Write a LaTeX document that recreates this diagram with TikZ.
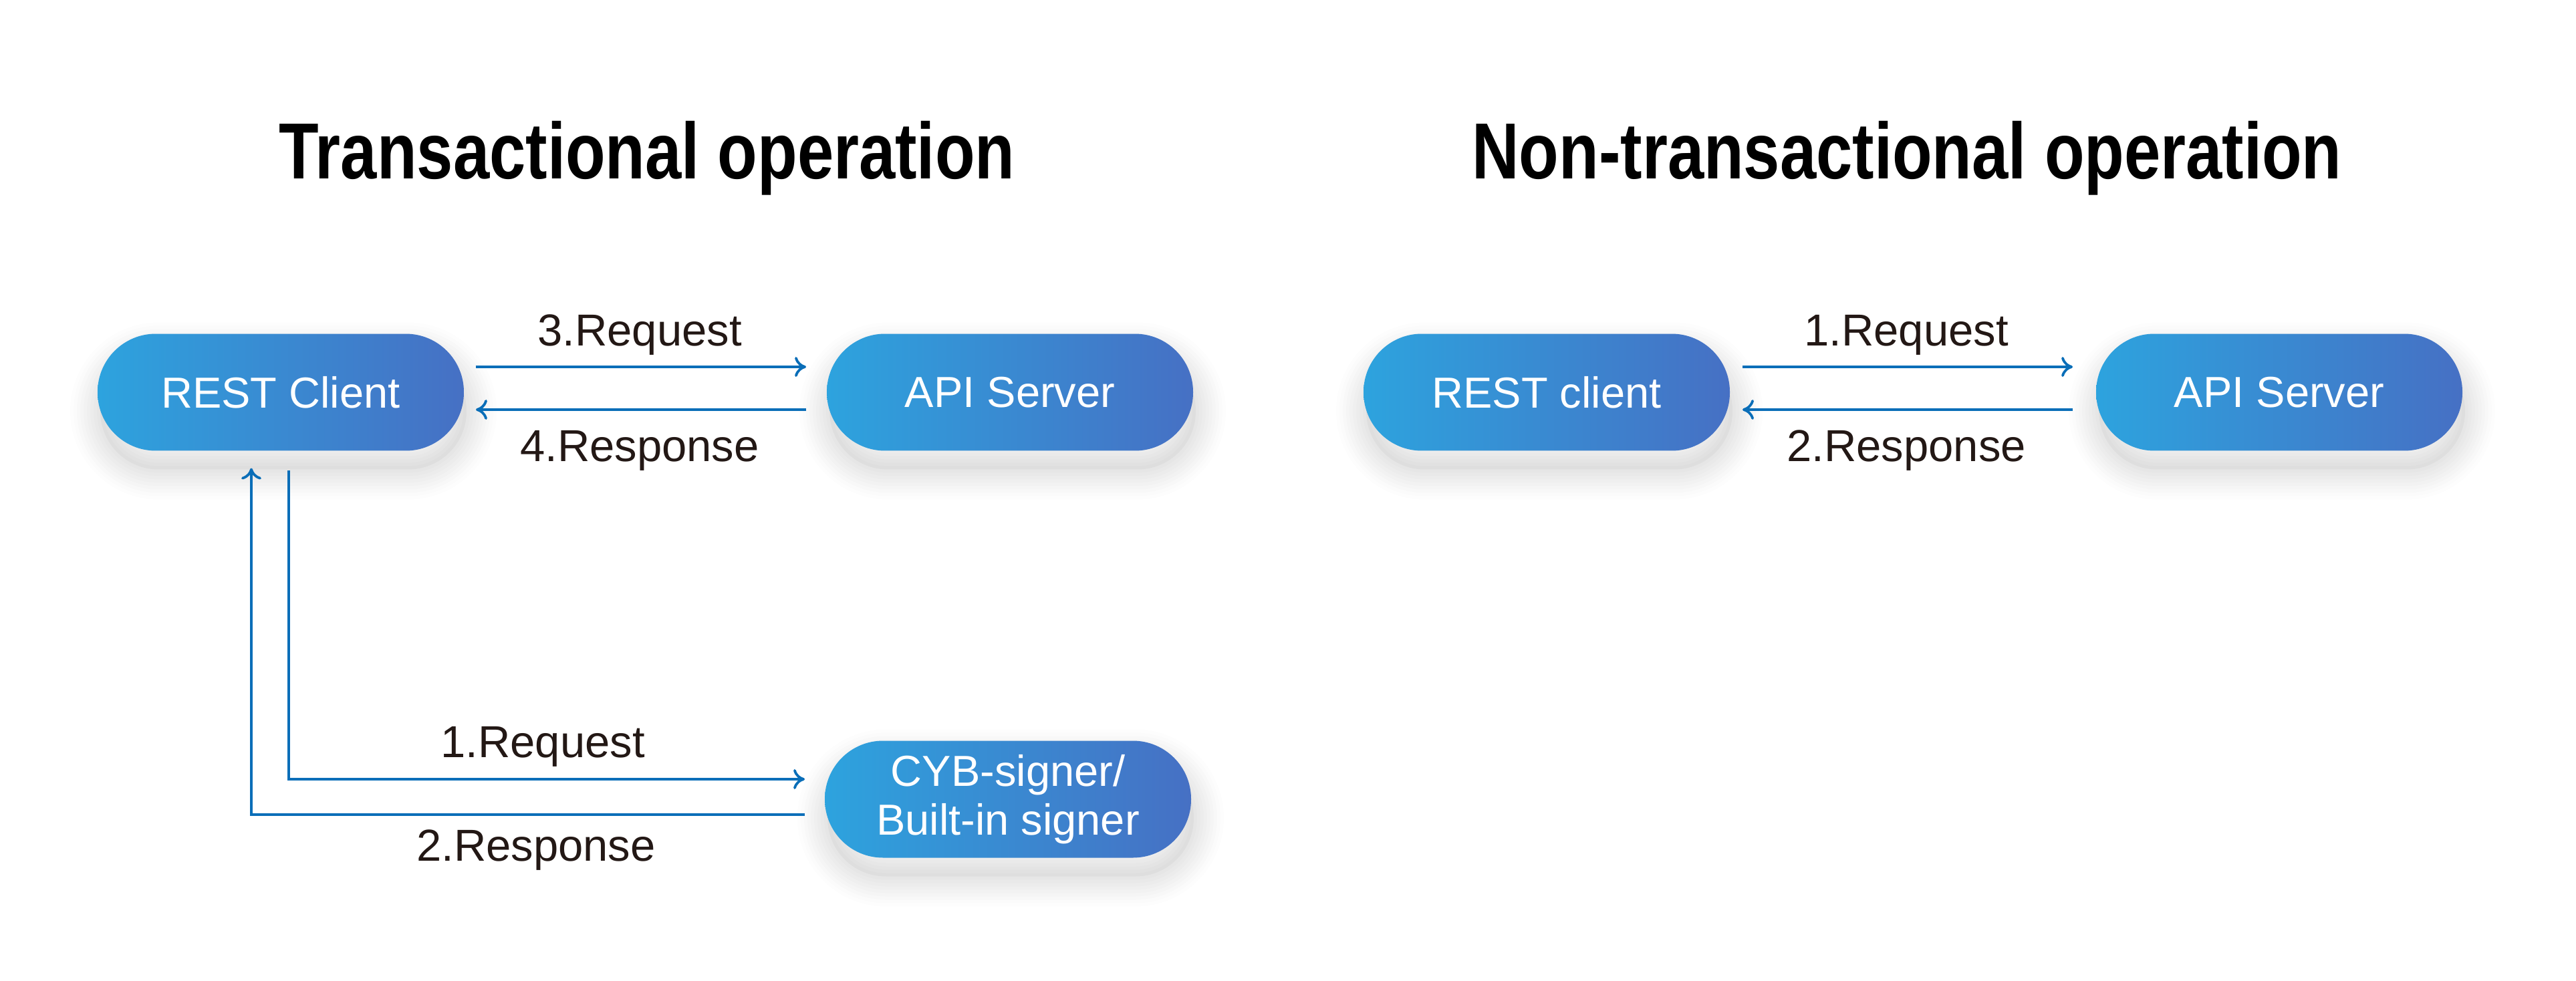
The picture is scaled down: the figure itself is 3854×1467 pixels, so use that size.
\documentclass[tikz,border=0pt]{standalone}
\usepackage{fontspec}
\setmainfont{Liberation Sans}
\newfontfamily\titlefont[FakeStretch=0.82]{Liberation Sans}
\usetikzlibrary{arrows.meta}
\definecolor{pillL}{RGB}{45,163,222}
\definecolor{pillR}{RGB}{70,112,196}
\definecolor{flow}{RGB}{10,110,184}
\definecolor{ink}{RGB}{35,24,21}
\begin{document}
\begin{tikzpicture}[x=0.1pt,y=-0.1pt,
  sh/.style={preaction={draw=black, draw opacity=#1, line width=#1*0pt+1pt, transform canvas={shift={(0.4pt,-2.8pt)}}}},
  shadowed/.style={
    preaction={fill=black, fill opacity=0.03, transform canvas={shift={(0.4pt,-2.8pt)}}},
    preaction={draw=black, draw opacity=0.012, line width=1pt, transform canvas={shift={(0.4pt,-2.8pt)}}},
    preaction={draw=black, draw opacity=0.012, line width=2pt, transform canvas={shift={(0.4pt,-2.8pt)}}},
    preaction={draw=black, draw opacity=0.012, line width=3pt, transform canvas={shift={(0.4pt,-2.8pt)}}},
    preaction={draw=black, draw opacity=0.012, line width=4pt, transform canvas={shift={(0.4pt,-2.8pt)}}},
    preaction={draw=black, draw opacity=0.012, line width=5pt, transform canvas={shift={(0.4pt,-2.8pt)}}},
    preaction={draw=black, draw opacity=0.01, line width=6pt, transform canvas={shift={(0.4pt,-2.8pt)}}},
    preaction={draw=black, draw opacity=0.01, line width=7pt, transform canvas={shift={(0.4pt,-2.8pt)}}},
    preaction={draw=black, draw opacity=0.008, line width=8pt, transform canvas={shift={(0.4pt,-2.8pt)}}},
    preaction={draw=black, draw opacity=0.008, line width=9pt, transform canvas={shift={(0.4pt,-2.8pt)}}}},
  pill/.style={shadowed, rounded corners=8.7pt, minimum width=54.8pt, minimum height=17.5pt,
    inner sep=0pt, left color=pillL, right color=pillR, text=white,
    font=\fontsize{6.5pt}{7.3pt}\selectfont, align=center},
  flowline/.style={draw=flow, line width=0.38pt, -{To[length=1.7pt,width=3pt]}},
  lbl/.style={anchor=base, text=ink, inner sep=0pt, font=\fontsize{6.7pt}{8pt}\selectfont},
  ttl/.style={anchor=base, text=black, inner sep=0pt, font=\titlefont\bfseries\fontsize{11.9pt}{14pt}\selectfont}]
\useasboundingbox (0,0) rectangle (3854,1467);
\fill[white] (0,0) rectangle (3854,1467);

% titles
\node[ttl] (t1) at (968,268) {Transactional operation};
\node[ttl] (t2) at (2853,268) {Non-transactional operation};

% left group
\node[pill] (rc1) at (420,587) {REST Client};
\node[pill] (api1) at (1511,587) {API Server};
\node[pill] (cyb) at (1508,1196) {CYB-signer/\\Built-in signer};

\draw[flowline] ([shift={(16,-38)}]rc1.east) -- ([shift={(-29,-38)}]api1.west);
\draw[flowline] ([shift={(-29,26)}]api1.west) -- ([shift={(16,26)}]rc1.east);
\draw[flowline] ([shift={(12,27)}]rc1.south) |- ([shift={(-28,-30)}]cyb.west);
\draw[flowline] ([shift={(-28,23)}]cyb.west) -| ([shift={(-44,24)}]rc1.south);

\node[lbl] (l3) at (957,518) {3.Request};
\node[lbl] (l4) at (957,690) {4.Response};
\node[lbl] (l1) at (812,1133) {1.Request};
\node[lbl] (l2) at (802,1288) {2.Response};

% right group
\node[pill] (rc2) at (2314,587) {REST client};
\node[pill] (api2) at (3410,587) {API Server};

\draw[flowline] ([shift={(17,-38)}]rc2.east) -- ([shift={(-33,-38)}]api2.west);
\draw[flowline] ([shift={(-33,26)}]api2.west) -- ([shift={(17,26)}]rc2.east);

\node[lbl] (r1) at (2852,518) {1.Request};
\node[lbl] (r2) at (2852,690) {2.Response};
\end{tikzpicture}
\end{document}
